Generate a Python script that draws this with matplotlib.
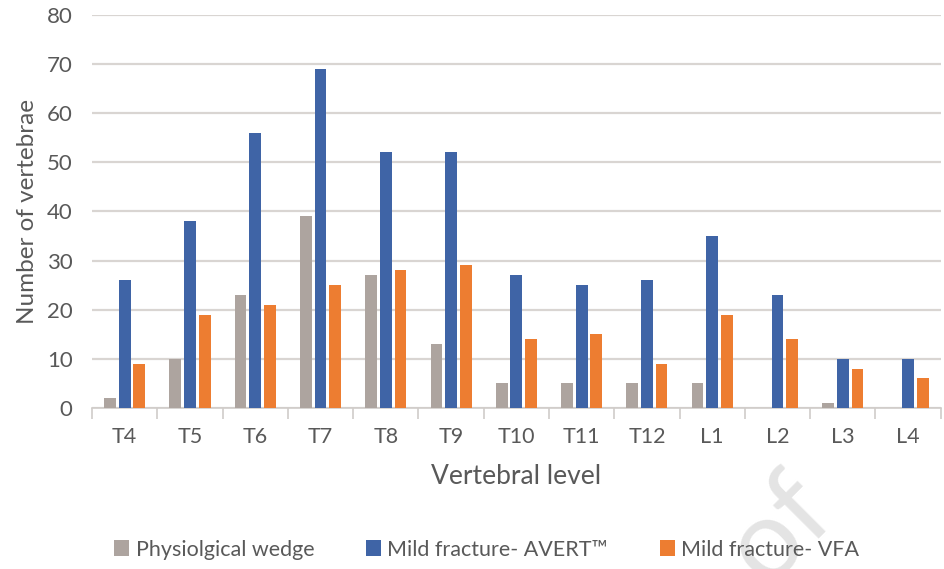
import numpy as np
import matplotlib.pyplot as plt

levels = ["T4", "T5", "T6", "T7", "T8", "T9", "T10", "T11", "T12", "L1", "L2", "L3", "L4"]
wedge = [2, 10, 23, 39, 27, 13, 5, 5, 5, 5, 0, 1, 0]
avert = [26, 38, 56, 69, 52, 52, 27, 25, 26, 35, 23, 10, 10]
vfa = [9, 19, 21, 25, 28, 29, 14, 15, 9, 19, 14, 8, 6]

plt.rcParams['font.family'] = ['Lato', 'DejaVu Sans']
txt = '#595959'

fig = plt.figure(figsize=(9.45, 5.69), dpi=100)
ax = fig.add_axes([0.0974, 0.283, 0.898, 0.691])

x = np.arange(len(levels))
w = 0.18
step = 0.225
ax.bar(x - step, wedge, w, color='#ADA49F', label='Physiolgical wedge', zorder=3)
ax.bar(x, avert, w, color='#3F64A6', label='Mild fracture- AVERT\u2122', zorder=3)
ax.bar(x + step, vfa, w, color='#ED7D31', label='Mild fracture- VFA', zorder=3)

ax.set_xlim(-0.5, len(levels) - 0.5)
ax.set_ylim(0, 80)
ax.set_yticks(range(0, 81, 10))
ax.yaxis.grid(True, color='#D9D5D2', linewidth=1.6, zorder=0)
ax.tick_params(axis='y', length=0, labelsize=16, labelcolor=txt, pad=14)

ax.set_xticks(x)
ax.set_xticklabels(levels)
ax.tick_params(axis='x', which='major', length=0, labelsize=15.5, labelcolor=txt, pad=14)
ax.set_xticks(np.arange(-0.5, len(levels), 1.0), minor=True)
ax.tick_params(axis='x', which='minor', length=8, width=1.2, color='#D0CCC9')

for s in ['top', 'right', 'left']:
    ax.spines[s].set_visible(False)
ax.spines['bottom'].set_color('#D0CCC9')
ax.spines['bottom'].set_linewidth(1.2)

ax.set_ylabel('Number of vertebrae', fontsize=17.5, color=txt, labelpad=6)
ax.set_xlabel('Vertebral level', fontsize=19, color=txt, labelpad=12)

ax.legend(loc='center', bbox_to_anchor=(0.465, -0.36), ncol=3, frameon=False,
          fontsize=15.5, labelcolor=txt, handlelength=0.7, handleheight=0.7,
          handletextpad=0.3, columnspacing=2.4)

# faint diagonal watermark behind the legend
fig.text(0.825, 0.07, 'of', fontsize=80, color='#E4E4E4', rotation=45,
         ha='center', va='center', zorder=-1)

fig.savefig('out.png', dpi=100)
